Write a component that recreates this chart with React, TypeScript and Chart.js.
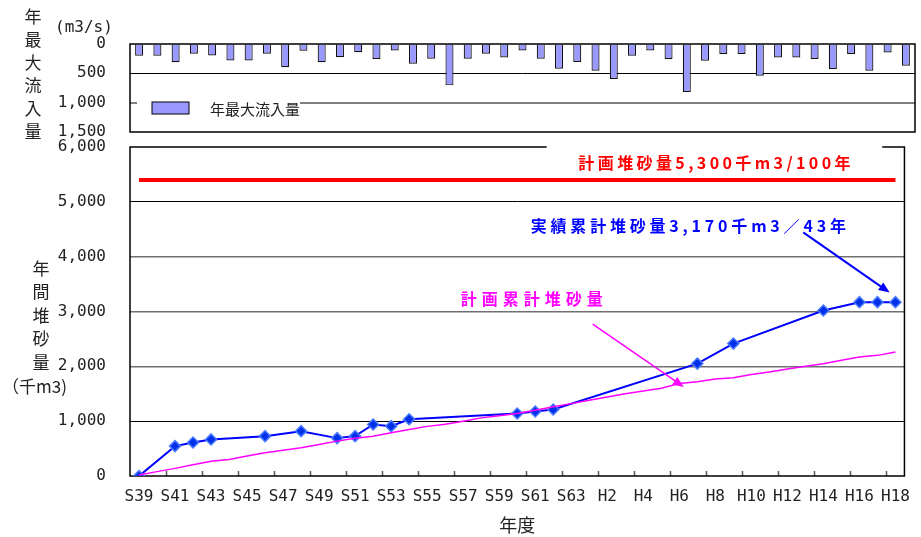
import { useEffect, useRef } from 'react';
import { Chart, registerables } from 'chart.js';

Chart.register(...registerables);

const years = [
  'S39', 'S40', 'S41', 'S42', 'S43', 'S44', 'S45', 'S46', 'S47', 'S48', 'S49', 'S50', 'S51',
  'S52', 'S53', 'S54', 'S55', 'S56', 'S57', 'S58', 'S59', 'S60', 'S61', 'S62', 'S63',
  'H1', 'H2', 'H3', 'H4', 'H5', 'H6', 'H7', 'H8', 'H9', 'H10', 'H11', 'H12', 'H13', 'H14',
  'H15', 'H16', 'H17', 'H18',
];

const maxInflow = [
  200, 200, 310, 165, 195, 280, 280, 165, 395, 115, 310, 225, 140, 255, 110, 335, 250, 705,
  250, 165, 230, 110, 250, 420, 305, 455, 595, 200, 110, 255, 820, 285, 170, 170, 540, 230,
  230, 255, 425, 170, 455, 145, 370,
];

const plannedCumulative = [
  20, 80, 139, 205, 270, 300, 365, 424, 470, 515, 575, 636, 690, 727, 790, 848, 905, 945,
  1000, 1060, 1100, 1139, 1200, 1261, 1320, 1380, 1440, 1500, 1550, 1600, 1685, 1720, 1770,
  1790, 1850, 1897, 1950, 2000, 2048, 2110, 2170, 2200, 2261,
];

const actualCumulative: (number | null)[] = [
  0, null, 545, 612, 667, null, null, 727, null, 818, null, 691, 727, 939, 909, 1036,
  null, null, null, null, null, 1139, 1176, 1212, null, null, null, null, null, null, null,
  2050, null, 2415, null, null, null, null, 3018, null, 3170, 3170, 3170,
];

const planLevel = 5400;
const inflowTicks = [0, 500, 1000, 1500];
const sedimentTicks = [0, 1000, 2000, 3000, 4000, 5000, 6000];

const notes = [
  { text: '計画堆砂量5,300千m3/100年', color: '#ff0000', x: 31.95, y: 5709, box: true, spacing: 3.4 },
  { text: '実績累計堆砂量3,170千m3／43年', color: '#0000ff', x: 30.5, y: 4564, box: false, spacing: 3.8 },
  { text: '計画累計堆砂量', color: '#ff00ff', x: 21.8, y: 3236, box: false, spacing: 5 },
];

const arrows = [
  { from: [36.88, 4442], to: [41.68, 3345], color: '#0000ff', width: 2 },
  { from: [25.19, 2769], to: [30.25, 1624], color: '#ff00ff', width: 1.5 },
];

const MONO = "'DejaVu Sans Mono', 'Noto Sans CJK JP', sans-serif";
const JP = "'Noto Sans CJK JP', sans-serif";
const TEXT = '#222';

const topDeco = {
  id: 'topDeco',
  afterDatasetsDraw(chart: any) {
    const { ctx, chartArea: a } = chart;
    ctx.save();
    ctx.strokeStyle = '#000';
    ctx.lineWidth = 1.5;
    ctx.strokeRect(a.left, a.top, a.right - a.left, a.bottom - a.top);
    // legend
    const ds = chart.data.datasets[0];
    ctx.fillStyle = '#fff';
    ctx.fillRect(a.left + 7, a.bottom - 37, 163, 29);
    ctx.fillStyle = ds.backgroundColor;
    ctx.fillRect(a.left + 22, a.bottom - 30, 37, 12);
    ctx.strokeStyle = '#000';
    ctx.lineWidth = 1;
    ctx.strokeRect(a.left + 22, a.bottom - 30, 37, 12);
    ctx.fillStyle = TEXT;
    ctx.font = `15px ${JP}`;
    ctx.textBaseline = 'middle';
    ctx.textAlign = 'left';
    ctx.fillText(ds.label, a.left + 80, a.bottom - 23);
    ctx.restore();
  },
};

const bottomDeco = {
  id: 'bottomDeco',
  beforeDatasetsDraw(chart: any) {
    const { ctx, chartArea: a, scales } = chart;
    const x = scales.x;
    ctx.save();
    ctx.strokeStyle = '#555';
    ctx.lineWidth = 1.5;
    for (let i = 2; i < years.length; i += 2) {
      const px = Math.round((x.getPixelForValue(i - 1) + x.getPixelForValue(i)) / 2) + 0.5;
      ctx.beginPath();
      ctx.moveTo(px, a.bottom);
      ctx.lineTo(px, a.bottom - 5);
      ctx.stroke();
    }
    ctx.strokeStyle = '#000';
    ctx.lineWidth = 1.5;
    ctx.strokeRect(a.left, a.top, a.right - a.left, a.bottom - a.top);
    ctx.restore();
  },
  afterDatasetsDraw(chart: any) {
    const { ctx, scales } = chart;
    const x = scales.x;
    const y = scales.y;
    ctx.save();
    ctx.font = `bold 16px ${JP}`;
    ctx.textBaseline = 'middle';
    ctx.textAlign = 'center';
    for (const n of notes) {
      (ctx as any).letterSpacing = `${n.spacing}px`;
      const px = x.getPixelForValue(n.x);
      const py = y.getPixelForValue(n.y);
      const w = ctx.measureText(n.text).width;
      if (n.box) {
        ctx.fillStyle = '#fff';
        ctx.fillRect(px - w / 2 - 30, py - 20, w + 60, 32);
      }
      ctx.fillStyle = n.color;
      ctx.fillText(n.text, px + n.spacing / 2, py);
    }
    for (const ar of arrows) {
      const x1 = x.getPixelForValue(ar.from[0]);
      const y1 = y.getPixelForValue(ar.from[1]);
      const x2 = x.getPixelForValue(ar.to[0]);
      const y2 = y.getPixelForValue(ar.to[1]);
      const ang = Math.atan2(y2 - y1, x2 - x1);
      const hl = 11;
      const hw = 4.5;
      ctx.strokeStyle = ar.color;
      ctx.fillStyle = ar.color;
      ctx.lineWidth = ar.width;
      ctx.beginPath();
      ctx.moveTo(x1, y1);
      ctx.lineTo(x2 - Math.cos(ang) * hl * 0.8, y2 - Math.sin(ang) * hl * 0.8);
      ctx.stroke();
      ctx.beginPath();
      ctx.moveTo(x2, y2);
      ctx.lineTo(x2 - Math.cos(ang) * hl - Math.sin(ang) * hw, y2 - Math.sin(ang) * hl + Math.cos(ang) * hw);
      ctx.lineTo(x2 - Math.cos(ang) * hl + Math.sin(ang) * hw, y2 - Math.sin(ang) * hl - Math.cos(ang) * hw);
      ctx.closePath();
      ctx.fill();
    }
    ctx.restore();
  },
};

export default function App() {
  const topRef = useRef<HTMLCanvasElement>(null);
  const botRef = useRef<HTMLCanvasElement>(null);

  useEffect(() => {
    const top = new Chart(topRef.current!, {
      type: 'bar',
      data: {
        labels: years,
        datasets: [
          {
            label: '年最大流入量',
            data: maxInflow,
            backgroundColor: '#9999ff',
            borderColor: '#111',
            borderWidth: 1.2,
            barPercentage: 0.44,
            categoryPercentage: 1,
          },
        ],
      },
      options: {
        animation: false,
        responsive: false,
        layout: { padding: { top: 44, bottom: 38, right: 6, left: 0 } },
        plugins: { legend: { display: false }, tooltip: { enabled: false } },
        scales: {
          x: { display: false, offset: true },
          y: {
            reverse: true,
            min: 0,
            max: 1500,
            afterBuildTicks: (s: any) => {
              s.ticks = inflowTicks.map((v) => ({ value: v }));
            },
            afterFit: (s: any) => {
              s.width = 130;
            },
            border: { display: false },
            grid: {
              drawTicks: false,
              color: (c: any) =>
                c.tick?.value === 500 ? '#000' : c.tick?.value === 1000 ? '#808080' : 'rgba(0,0,0,0)',
              lineWidth: (c: any) => (c.tick?.value === 1000 ? 2 : 1),
            },
            ticks: {
              padding: 24,
              color: TEXT,
              font: { family: MONO, size: 16 },
            },
          },
        },
      },
      plugins: [topDeco],
    });

    const bot = new Chart(botRef.current!, {
      type: 'line',
      data: {
        labels: years,
        datasets: [
          {
            label: '計画堆砂量',
            data: years.map(() => planLevel),
            borderColor: '#ff0000',
            borderWidth: 4,
            pointRadius: 0,
          },
          {
            label: '計画累計堆砂量',
            data: plannedCumulative,
            borderColor: '#ff00ff',
            borderWidth: 1.5,
            pointRadius: 0,
          },
          {
            label: '実績累計堆砂量',
            data: actualCumulative,
            spanGaps: true,
            borderColor: '#0000ff',
            borderWidth: 2,
            pointStyle: 'rectRot',
            pointRadius: 5.5,
            pointBackgroundColor: '#0030e8',
            pointBorderColor: '#4a7aff',
            pointBorderWidth: 1.5,
          },
        ],
      },
      options: {
        animation: false,
        responsive: false,
        layout: { padding: { top: 38, bottom: 0, right: 9, left: 0 } },
        plugins: { legend: { display: false }, tooltip: { enabled: false } },
        scales: {
          x: {
            offset: true,
            afterFit: (s: any) => {
              s.height = 61;
            },
            grid: { display: false, drawTicks: false },
            border: { display: false },
            ticks: {
              autoSkip: false,
              maxRotation: 0,
              padding: 11,
              color: TEXT,
              font: { family: MONO, size: 16 },
              callback: (_v: any, i: number) => (i % 2 === 0 ? years[i] : ''),
            },
            title: {
              display: true,
              text: '年度',
              color: TEXT,
              font: { family: JP, size: 18 },
              padding: { top: 0, bottom: 1 },
            },
          },
          y: {
            min: 0,
            max: 6000,
            afterBuildTicks: (s: any) => {
              s.ticks = sedimentTicks.map((v) => ({ value: v }));
            },
            afterFit: (s: any) => {
              s.width = 130;
            },
            border: { display: false },
            grid: {
              drawTicks: false,
              color: (c: any) => {
                const v = c.tick?.value;
                if (v === 1000 || v === 5000) return '#000';
                if (v === 2000 || v === 3000 || v === 4000) return '#707070';
                return 'rgba(0,0,0,0)';
              },
              lineWidth: (c: any) => {
                const v = c.tick?.value;
                return v === 2000 || v === 3000 || v === 4000 ? 1.5 : 1;
              },
            },
            ticks: {
              padding: 24,
              color: TEXT,
              font: { family: MONO, size: 16 },
            },
          },
        },
      },
      plugins: [bottomDeco],
    });

    return () => {
      top.destroy();
      bot.destroy();
    };
  }, []);

  const vText: React.CSSProperties = {
    position: 'absolute',
    fontFamily: JP,
    fontSize: 17,
    color: TEXT,
    textAlign: 'center',
    whiteSpace: 'pre',
  };

  return (
    <div style={{ position: 'absolute', left: 0, top: 0, width: 921, height: 537, background: '#fff', overflow: 'hidden' }}>
      <canvas ref={botRef} width={921} height={428} style={{ position: 'absolute', left: 0, top: 109, width: 921, height: 428 }} />
      <canvas ref={topRef} width={921} height={170} style={{ position: 'absolute', left: 0, top: 0, width: 921, height: 170 }} />
      <div style={{ ...vText, left: 21, top: 3.5, width: 24, lineHeight: '23px' }}>
        {'年\n最\n大\n流\n入\n量'}
      </div>
      <div style={{ ...vText, left: 55, top: 15, fontFamily: MONO, fontSize: 16, lineHeight: '23px' }}>(m3/s)</div>
      <div style={{ ...vText, left: 29, top: 255.5, width: 24, lineHeight: '23.5px' }}>
        {'年\n間\n堆\n砂\n量'}
      </div>
      <div style={{ ...vText, left: 2, top: 374, lineHeight: '23.5px' }}>（千m3)</div>
    </div>
  );
}
